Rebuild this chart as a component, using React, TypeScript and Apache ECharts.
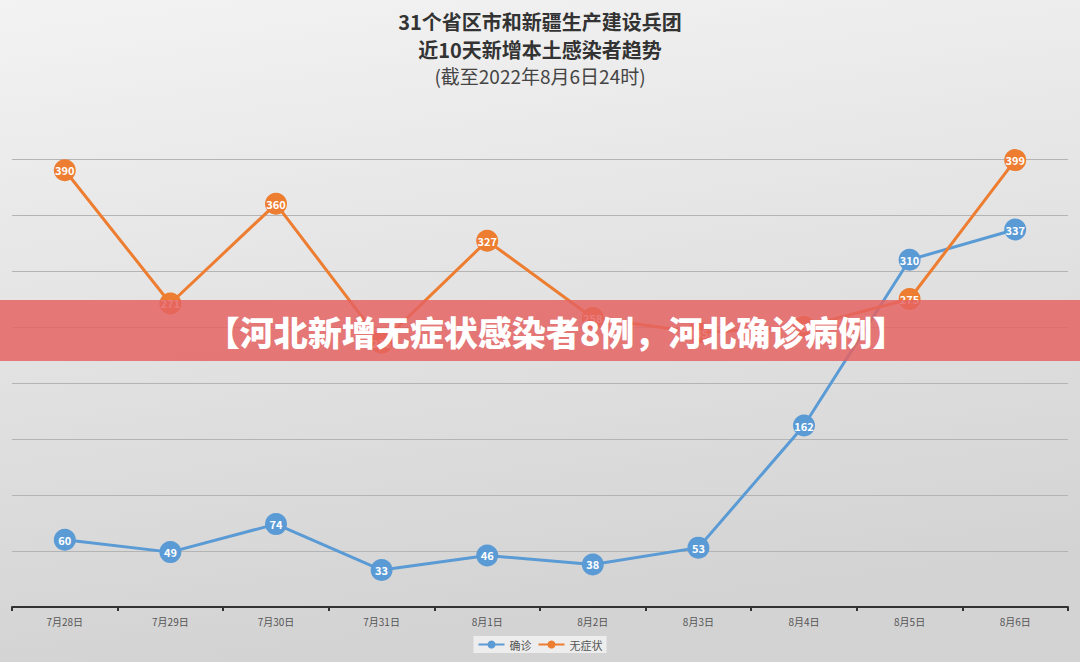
import React, { useEffect, useRef } from "react";
import * as echarts from "echarts";

const categories = ["7月28日", "7月29日", "7月30日", "7月31日", "8月1日", "8月2日", "8月3日", "8月4日", "8月5日", "8月6日"];
const confirmed = [60, 49, 74, 33, 46, 38, 53, 162, 310, 337];
const asymptomatic = [390, 271, 360, 236, 327, 258, 245, 250, 275, 399];
const titleLines = ["31个省区市和新疆生产建设兵团", "近10天新增本土感染者趋势", "(截至2022年8月6日24时)"];
const bannerText = "【河北新增无症状感染者8例，河北确诊病例】";

const FONT = "'Noto Sans CJK SC', 'Noto Sans', sans-serif";

export default function App() {
  const ref = useRef<HTMLDivElement>(null);
  useEffect(() => {
    if (!ref.current) return;
    const chart = echarts.init(ref.current, null, { renderer: "svg" });
    const seriesStyle = (color: string) => ({
      type: "line" as const,
      symbol: "circle",
      symbolSize: 22,
      lineStyle: { color, width: 3 },
      itemStyle: { color },
      label: {
        show: true,
        position: "inside",
        color: "#fff",
        fontSize: 11,
        fontWeight: "bold",
        fontFamily: FONT,
      },
      z: 3,
    });
    chart.setOption({
      animation: false,
      backgroundColor: new echarts.graphic.LinearGradient(0, 0, 0.2, 1, [
        { offset: 0, color: "#f3f3f3" },
        { offset: 1, color: "#d3d3d3" },
      ]),
      title: [
        { text: titleLines[0], left: "center", top: 6, textStyle: { fontSize: 20, fontWeight: "bold", color: "#333", fontFamily: FONT } },
        { text: titleLines[1], left: "center", top: 34, textStyle: { fontSize: 20, fontWeight: "bold", color: "#333", fontFamily: FONT } },
        { text: titleLines[2], left: "center", top: 61, textStyle: { fontSize: 19, fontWeight: "normal", color: "#444", fontFamily: FONT } },
      ],
      legend: {
        data: ["确诊", "无症状"],
        left: "center",
        top: 636,
        itemWidth: 26,
        itemHeight: 10,
        itemGap: 6,
        padding: [3, 4],
        backgroundColor: "rgba(240,240,240,0.9)",
        textStyle: { fontSize: 11, color: "#555", fontFamily: FONT },
      },
      grid: { left: 12, right: 12, top: 159, bottom: 55 },
      xAxis: {
        type: "category",
        data: categories,
        boundaryGap: true,
        axisLine: { lineStyle: { color: "#333", width: 2 } },
        axisTick: { show: true, length: 4, lineStyle: { color: "#333", width: 2 } },
        axisLabel: { fontSize: 10, color: "#555", margin: 9, fontFamily: FONT },
      },
      yAxis: {
        type: "value",
        min: 0,
        max: 400,
        interval: 50,
        axisLine: { show: false },
        axisTick: { show: false },
        axisLabel: { show: false },
        splitLine: { lineStyle: { color: "#b4b4b4", width: 1 } },
      },
      series: [
        { name: "确诊", data: confirmed, ...seriesStyle("#5b9bd5") },
        { name: "无症状", data: asymptomatic, ...seriesStyle("#ed7d31") },
      ],
      graphic: [
        {
          type: "rect",
          z: 100,
          shape: { x: 0, y: 300, width: 1080, height: 61 },
          style: { fill: "rgba(229,98,98,0.84)" },
        },
        {
          type: "text",
          z: 101,
          x: 556,
          y: 331,
          style: {
            text: bannerText,
            fill: "#fff",
            fontSize: 34,
            fontWeight: 900,
            fontFamily: FONT,
            align: "center",
            verticalAlign: "middle",
          },
        },
      ],
    });
    return () => chart.dispose();
  }, []);
  return (
    <div
      ref={ref}
      style={{ position: "fixed", left: 0, top: 0, width: 1080, height: 662 }}
    />
  );
}
